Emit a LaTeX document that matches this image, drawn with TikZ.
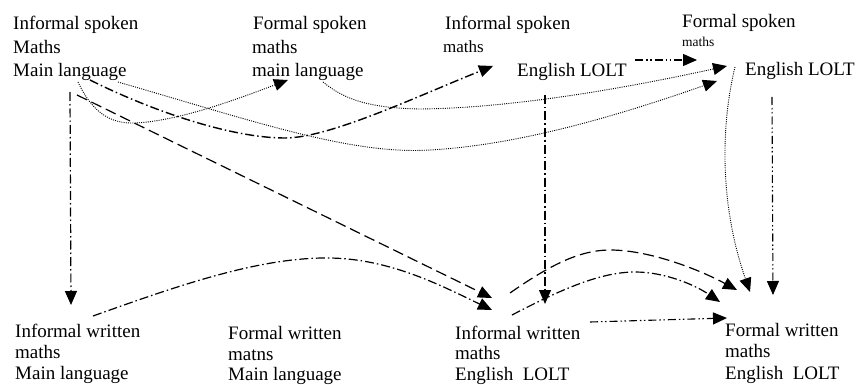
\documentclass[tikz,border=0pt]{standalone}
\usepackage{fontspec}
\setmainfont{Liberation Serif}
\usetikzlibrary{arrows.meta}
\begin{document}
\begin{tikzpicture}[x=1pt,y=-1pt,
  lbl/.style={anchor=base west, inner sep=0pt, font=\fontsize{19}{23}\selectfont},
  lblmid/.style={lbl, font=\fontsize{17}{20}\selectfont},
  lblsmall/.style={lbl, font=\fontsize{13.5}{16}\selectfont},
  tip/.style={-{Triangle[length=14pt,width=12pt]}},
  lndashed/.style={line width=1.2pt, dash pattern=on 11pt off 5pt},
  lndashdot/.style={line width=1.2pt, dash pattern=on 9pt off 3pt on 1.5pt off 3pt},
  lndashdotdot/.style={line width=1.1pt, dash pattern=on 8pt off 3pt on 1.5pt off 2.5pt on 1.5pt off 3pt},
  lndotted/.style={line width=0.9pt, dash pattern=on 1pt off 1.2pt}]
\useasboundingbox (0,0) rectangle (856,385);
% top groups
\node[lbl] (n1a) at (13,30) {Informal spoken};
\node[lbl] (n1b) at (13,54) {Maths};
\node[lbl] (n1c) at (13,77) {Main language};
\node[lbl] (n2a) at (253,30) {Formal spoken};
\node[lbl] (n2b) at (252,54) {maths};
\node[lbl] (n2c) at (252,77) {main language};
\node[lbl] (n3a) at (445,30) {Informal spoken};
\node[lblmid] (n3b) at (443,53) {maths};
\node[lbl] (n3c) at (517,77) {English LOLT};
\node[lbl] (n4a) at (682,28) {Formal spoken};
\node[lblsmall] (n4b) at (682,47) {maths};
\node[lbl] (n4c) at (745,76) {English LOLT};
% bottom groups
\node[lbl] (n5a) at (15,337) {Informal written};
\node[lbl] (n5b) at (15,358) {maths};
\node[lbl] (n5c) at (15,379) {Main language};
\node[lbl] (n6a) at (228,339) {Formal written};
\node[lbl] (n6b) at (228,360) {matns};
\node[lbl] (n6c) at (228,380) {Main language};
\node[lbl] (n7a) at (455,339) {Informal written};
\node[lbl] (n7b) at (455,359) {maths};
\node[lbl] (n7c) at (455,380) {English\ \ LOLT};
\node[lbl] (n8a) at (725,336) {Formal written};
\node[lbl] (n8b) at (725,357) {maths};
\node[lbl] (n8c) at (725,379) {English\ \ LOLT};
% connectors
\draw[lndashdot, tip] ([shift={(57,15)}]n1c.base west) -- ([shift={(56,-32)}]n5a.base west);
\draw[lndashed, tip] ([shift={(64,18)}]n1c.base west) -- ([shift={(37,-41)}]n7a.base west);
\draw[lndashdot, line width=1.4pt, tip] ([shift={(77,3)}]n1c.base west)
  .. controls (150,110) and (230,138) .. (285,138)
  .. controls (330,138) and (420,95) .. ([shift={(-24,-11)}]n3c.base west);
\draw[lndotted, tip] ([shift={(65,5)}]n1c.base west)
  .. controls (92,112) and (110,124) .. (135,123)
  .. controls (180,121) and (240,98) .. ([shift={(36,3)}]n2c.base west);
\draw[lndotted, tip] ([shift={(105,5)}]n1c.base west)
  .. controls (250,120) and (350,155) .. (430,150)
  .. controls (520,145) and (620,115) .. ([shift={(-28,5)}]n4c.base west);
\draw[lndotted, tip] ([shift={(71,5)}]n2c.base west)
  .. controls (345,100) and (370,108) .. (420,109)
  .. controls (520,108) and (640,85) .. ([shift={(-18,-10)}]n4c.base west);
\draw[lndashdotdot, tip] ([shift={(118,-17)}]n3c.base west) -- ([shift={(15,13)}]n4b.base west);
\draw[lndashdot, tip] ([shift={(28,18)}]n3c.base west) -- ([shift={(90,-35)}]n7a.base west);
\draw[lndotted, tip] ([shift={(-10,-9)}]n4c.base west)
  .. controls (722,120) and (718,200) .. ([shift={(25,-44)}]n8a.base west);
\draw[lndashdotdot, tip] ([shift={(27,21)}]n4c.base west) -- ([shift={(48,-41)}]n8a.base west);
\draw[lndashdot, tip] ([shift={(78,-21)}]n5a.base west)
  .. controls (180,285) and (260,257) .. (330,258)
  .. controls (390,259) and (440,285) .. ([shift={(37,-29)}]n7a.base west);
\draw[lndashed, tip] ([shift={(55,-46)}]n7a.base west)
  .. controls (550,265) and (580,250) .. (610,250)
  .. controls (650,250) and (700,270) .. ([shift={(12,-46)}]n8a.base west);
\draw[lndashdot, tip] ([shift={(57,-24)}]n7a.base west)
  .. controls (560,290) and (600,272) .. (635,272)
  .. controls (665,272) and (695,285) .. ([shift={(-5,-34)}]n8a.base west);
\draw[lndashdotdot, tip] ([shift={(135,-17)}]n7a.base west) -- ([shift={(2,-18)}]n8a.base west);
\end{tikzpicture}
\end{document}
